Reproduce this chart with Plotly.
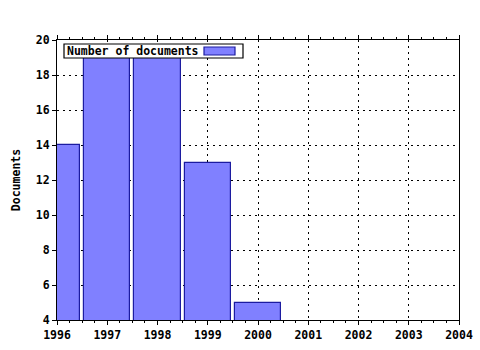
import plotly.graph_objects as go

years = [1996, 1997, 1998, 1999, 2000]
documents = [14, 19, 19, 13, 5]
series_name = "Number of documents"
x_ticks = [1996, 1997, 1998, 1999, 2000, 2001, 2002, 2003, 2004]
y_ticks = [4, 6, 8, 10, 12, 14, 16, 18, 20]

FONT = dict(family="DejaVu Sans Mono", size=11.5, color="black")

fig = go.Figure()
fig.add_trace(go.Bar(
    x=years, y=documents, width=0.92, name=series_name,
    marker=dict(color="#8080ff", line=dict(color="#1c1ca0", width=1.2)),
    showlegend=False,
))

W, H = 480, 350
L, R, T, B = 57, 459, 40, 320

def px(x):
    return (x - L) / (R - L)

def py(y):
    return (B - y) / (B - T)

axis_common = dict(
    showline=True, linecolor="black", linewidth=1.2,
    ticks="outside", tickcolor="black", ticklen=4, tickwidth=1,
    showgrid=True, gridcolor="black", gridwidth=1, griddash="2px,4px",
    zeroline=False, tickfont=dict(FONT, weight="bold"), automargin=False,
)

fig.update_layout(
    width=W, height=H, autosize=False,
    margin=dict(l=L, r=W - R, t=T, b=H - B, pad=0),
    paper_bgcolor="white", plot_bgcolor="white",
    font=FONT,
    bargap=0,
    xaxis=dict(
        axis_common, range=[1996, 2004], tickvals=x_ticks,
        ticktext=[str(v) for v in x_ticks], mirror="ticks",
        minor=dict(dtick=0.25, tick0=1996, ticks="outside", ticklen=2,
                   tickcolor="black", showgrid=False),
    ),
    yaxis=dict(
        axis_common, range=[4, 20], tickvals=y_ticks, mirror=True,
        title=dict(text="Documents", font=dict(FONT, weight="bold"), standoff=12),
    ),
    shapes=[
        dict(type="rect", xref="paper", yref="paper",
             x0=px(64), x1=px(243), y0=py(58), y1=py(44),
             line=dict(color="black", width=1.2), fillcolor="white", layer="above"),
        dict(type="rect", xref="paper", yref="paper",
             x0=px(204), x1=px(235), y0=py(55), y1=py(47),
             line=dict(color="#1c1ca0", width=1.2), fillcolor="#8080ff", layer="above"),
    ],
    annotations=[
        dict(text=series_name, xref="paper", yref="paper", x=px(65), y=py(51),
             xanchor="left", yanchor="middle", showarrow=False,
             font=dict(FONT, weight="bold")),
    ],
)

fig.write_html("out.html")
